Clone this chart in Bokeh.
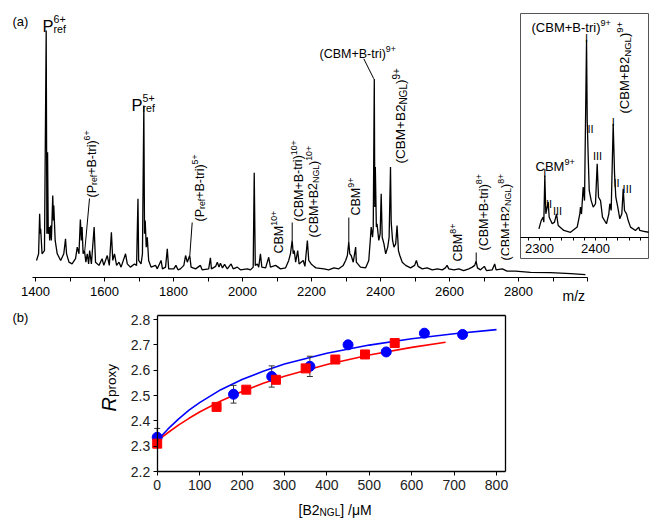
import math
from bokeh.plotting import figure
from bokeh.models import (Range1d, LinearAxis, FixedTicker, ColumnDataSource,
                          NumeralTickFormatter)
from bokeh.embed import file_html
from bokeh.resources import INLINE
from bokeh.core.properties import value

# ------------------------------------------------------------------ data
# (a) mass spectrum profile, m/z and relative intensity (%)
spec_mz = [
    1403, 1409, 1412, 1414, 1415, 1419, 1426, 1431, 1433, 1435,
    1437, 1440, 1441, 1444, 1446, 1450, 1452, 1453, 1457, 1463,
    1473, 1482, 1487, 1490, 1497, 1506, 1516, 1521, 1526, 1530,
    1533, 1535, 1538, 1542, 1546, 1550, 1554, 1557, 1562, 1570,
    1574, 1584, 1593, 1598, 1608, 1614, 1620, 1624, 1629, 1635,
    1642, 1648, 1661, 1666, 1675, 1687, 1693, 1697, 1699, 1706,
    1710, 1714, 1716, 1718, 1721, 1724, 1728, 1735, 1748, 1753,
    1764, 1768, 1777, 1782, 1786, 1801, 1807, 1813, 1820, 1830,
    1835, 1840, 1847, 1851, 1864, 1878, 1883, 1902, 1907, 1910,
    1922, 1927, 1932, 1936, 1942, 1948, 1956, 1967, 1973, 1985,
    1994, 2014, 2023, 2031, 2034, 2037, 2043, 2047, 2052, 2056,
    2067, 2076, 2081, 2096, 2110, 2125, 2134, 2139, 2144, 2147,
    2150, 2154, 2160, 2164, 2176, 2181, 2188, 2192, 2199, 2207,
    2213, 2236, 2250, 2265, 2279, 2292, 2299, 2304, 2308, 2311,
    2315, 2321, 2328, 2330, 2342, 2357, 2366, 2371, 2373, 2377,
    2379, 2382, 2383.5, 2385, 2388, 2390, 2395, 2399, 2402, 2405,
    2410, 2415, 2421, 2425, 2429, 2431, 2435, 2439, 2444, 2448,
    2452, 2456, 2463, 2473, 2487, 2499, 2504, 2509, 2521, 2535,
    2550, 2565, 2579, 2588, 2593, 2598, 2613, 2627, 2641, 2656,
    2666, 2673, 2677, 2681, 2690, 2701, 2707, 2724, 2731, 2735,
    2753, 2767, 2791, 2835, 2893, 2951, 2994,
]
spec_int = [
    6.9, 9.6, 25.8, 17.7, 19.7, 9.6, 10.9, 100, 17.7, 50.7,
    17.7, 20.4, 15, 21, 15, 33.2, 23.1, 29.1, 15, 9.6,
    6.9, 9.6, 15.7, 9.6, 6.2, 5.5, 7.6, 12.3, 9.6, 23.5,
    15, 20.4, 9.6, 10.9, 6.2, 9.6, 5.5, 10.9, 5.5, 20.4,
    6.2, 4.9, 7.6, 4.9, 8.9, 4.9, 18.3, 6.9, 9.6, 4.9,
    6.2, 4.2, 9.6, 5.5, 4.2, 5.5, 4.9, 31.9, 6.9, 5.5,
    9.6, 69.6, 17.7, 23.1, 12.3, 16.3, 6.9, 4.2, 4.9, 3.5,
    6.9, 3.5, 4.2, 11.6, 3.5, 3.5, 4.9, 3.1, 3.5, 4.9,
    8.9, 6.2, 8.9, 4.2, 3.5, 4.9, 3.1, 3.5, 8.0, 3.5,
    4.5, 6.2, 4.2, 5.8, 3.9, 5.3, 3.5, 5.5, 3.5, 4.2,
    3.1, 3.5, 3.1, 4.2, 42.4, 4.9, 5.5, 4.2, 9.6, 4.2,
    3.9, 8.2, 4.2, 4.9, 3.5, 3.9, 6.9, 9.6, 15, 9.6,
    10.9, 6.2, 10.9, 5.5, 6.9, 4.5, 15, 6.9, 5.5, 4.5,
    3.9, 3.5, 3.1, 3.9, 3.5, 4.9, 6.9, 8.9, 14.3, 9.6,
    8.9, 6.2, 12.3, 6.2, 4.2, 3.9, 6.9, 16.3, 20.4, 16.3,
    20.4, 80.4, 28.5, 44.7, 20.4, 21.7, 15, 17.7, 33.9, 16.3,
    13.6, 9.6, 12.3, 16.3, 44.7, 22.4, 15, 12.3, 13.6, 21,
    10.9, 8.9, 6.2, 4.9, 3.9, 4.9, 6.9, 4.5, 3.5, 3.9,
    3.1, 3.5, 3.1, 3.9, 4.9, 3.5, 3.1, 3.5, 2.8, 3.5,
    4.2, 4.9, 6.6, 3.9, 3.1, 4.5, 2.8, 3.1, 5.5, 3.1,
    3.5, 2.6, 2.6, 2.1, 2.0, 1.6, 1.2,
]
main_ticks = [1400, 1600, 1800, 2000, 2200, 2400, 2600, 2800, 3000]
main_minor = [1500, 1700, 1900, 2100, 2300, 2500, 2700, 2900]

# inset: zoom of the 9+ region
inset_mz = [
    2299, 2303, 2306.6, 2307.7, 2309.5, 2311.3, 2315.5, 2317.3, 2322.7, 2326.8,
    2330.4, 2333.4, 2343.4, 2355.4, 2367.3, 2372, 2373.2, 2375, 2378, 2380.4,
    2384, 2385.2, 2387, 2388.8, 2392.3, 2395.9, 2400, 2403, 2405.4, 2409,
    2412.5, 2419.6, 2423.8, 2425.5, 2428, 2431.6, 2434, 2436.3, 2439.8, 2443.4,
    2447, 2449.5, 2451.8, 2455.4, 2458.4, 2462.5, 2471.4, 2477.3, 2479, 2486.3,
    2495,
]
inset_int = [
    4.5, 8.7, 10.4, 7.9, 31.5, 12.1, 18, 10.4, 7.1, 7.9,
    12.1, 6.2, 3.7, 2.8, 5.4, 12.1, 15.5, 12, 25.6, 18.8,
    100, 59.2, 40.7, 23.9, 18.8, 15.5, 17.2, 37.4, 20.5, 18.8,
    10.4, 7.1, 12.1, 17.2, 13.8, 57.6, 32.3, 20.5, 15.5, 9.6,
    12.1, 24.7, 13.8, 12.1, 8.7, 5.4, 3.7, 5.4, 3.7, 3.3,
    2.8,
]
inset_ticks = [2300, 2400]
inset_minor = [2280, 2320, 2340, 2360, 2380, 2420, 2440, 2460, 2480]

# (b) R_proxy vs [B2_NGL]
blue_x = [0, 180, 270, 360, 450, 540, 630, 720]
blue_y = [2.335, 2.505, 2.575, 2.615, 2.700, 2.672, 2.746, 2.741]
blue_err = [0.035, 0.035, 0.042, 0.040, 0.0, 0.0, 0.0, 0.0]
red_x = [0, 140, 210, 280, 350, 420, 490, 560]
red_y = [2.310, 2.455, 2.523, 2.562, 2.607, 2.642, 2.662, 2.707]
blue_fit_x = [0, 10, 25, 50, 75, 100, 150, 200, 250, 300, 400, 500, 600, 700, 800]
blue_fit_y = [2.320, 2.340, 2.367, 2.407, 2.442, 2.472, 2.523, 2.563, 2.596,
              2.624, 2.667, 2.699, 2.724, 2.744, 2.760]
red_fit_x = [0, 10, 25, 50, 75, 100, 150, 200, 250, 300, 400, 500, 600, 680]
red_fit_y = [2.320, 2.334, 2.353, 2.383, 2.410, 2.435, 2.478, 2.516, 2.548,
             2.576, 2.622, 2.660, 2.690, 2.710]
conc_ticks = [0, 100, 200, 300, 400, 500, 600, 700, 800]
r_ticks = [2.2, 2.3, 2.4, 2.5, 2.6, 2.7, 2.8]

# ------------------------------------------------------------------ layout
W, H = 649, 518
FONT = "Liberation Sans"


def span(v0, p0, v1, p1, lo, hi):
    k = (v1 - v0) / (p1 - p0)
    return Range1d(v0 + (lo - p0) * k, v0 + (hi - p0) * k)


def inv(v0, p0, v1, p1):
    k = (v1 - v0) / (p1 - p0)
    return lambda pix: v0 + (pix - p0) * k


# main spectrum: 1400 @ x=35, 2800 @ x=518 ; 0 @ y=277, 100 @ y=30
xr = span(1400, 35, 2800, 518, 0, W)
yr = span(0, 277, 100, 30, H, 0)
ix_of = inv(2300, 539, 2400, 595)
bx_of = inv(0, 156.7, 800, 496)
by_of = inv(2.2, 471, 2.8, 319)

p = figure(width=W, height=H, x_range=xr, y_range=yr, output_backend="svg",
           toolbar_location=None, min_border=0, x_axis_type=None, y_axis_type=None)
p.outline_line_color = None
p.background_fill_color = "white"
p.border_fill_color = "white"
p.extra_x_ranges = {
    "ix": span(2300, 539, 2400, 595, 0, W),
    "bx": span(0, 156.7, 800, 496, 0, W),
    "px": Range1d(0, W),
}
p.extra_y_ranges = {
    "iy": span(0, 237.3, 100, 39.3, H, 0),
    "by": span(2.2, 471, 2.8, 319, H, 0),
    "py": Range1d(H, 0),
}


def style_axis(ax, size="13px", color="black", tick_out=4, minor_out=3, standoff=5, lw=1):
    ax.major_label_text_font = FONT
    ax.major_label_text_font_size = size
    ax.major_label_text_color = color
    ax.axis_line_color = "black"
    ax.axis_line_width = lw
    ax.major_tick_line_color = "black"
    ax.minor_tick_line_color = "black"
    ax.major_tick_in = 0
    ax.minor_tick_in = 0
    ax.major_tick_out = tick_out
    ax.minor_tick_out = minor_out
    ax.major_label_standoff = standoff


# ---- main spectrum
p.line(spec_mz, spec_int, line_color="black", line_width=1.3)
ax_main = LinearAxis(fixed_location=0, bounds=(1390, 3000),
                     ticker=FixedTicker(ticks=main_ticks, minor_ticks=main_minor))
ax_main.major_label_overrides = {3000: ""}
style_axis(ax_main, tick_out=4, minor_out=4, standoff=5)
p.add_layout(ax_main, "below")

# leader lines from annotations to their peaks (page pixels)
leaders = dict(x0=[89, 191.7, 291.7, 348.3, 363.3, 475.7],
               y0=[198, 222, 222, 217, 58.3, 252],
               x1=[84.3, 189.3, 291.7, 348.3, 373.3, 475.7],
               y1=[250, 255, 240, 241.7, 78.3, 260.7])
p.segment(x0="x0", y0="y0", x1="x1", y1="y1", source=ColumnDataSource(leaders),
          x_range_name="px", y_range_name="py", line_color="black", line_width=1)

# ---- inset
p.quad(left=[520], right=[648], top=[13], bottom=[258], x_range_name="px",
       y_range_name="py", fill_color="white", line_color="#555555", line_width=1)
p.line(inset_mz, inset_int, x_range_name="ix", y_range_name="iy",
       line_color="black", line_width=1.3)
ax_in = LinearAxis(x_range_name="ix", y_range_name="iy", fixed_location=0,
                   bounds=(ix_of(520), ix_of(648)),
                   ticker=FixedTicker(ticks=inset_ticks, minor_ticks=inset_minor))
style_axis(ax_in, tick_out=3, minor_out=3, standoff=3)
p.add_layout(ax_in, "below")

# ---- panel b
x_right = bx_of(505)
y_top = by_of(315)
p.line(blue_fit_x, blue_fit_y, x_range_name="bx", y_range_name="by",
       line_color="#0000FF", line_width=1.6)
p.line(red_fit_x, red_fit_y, x_range_name="bx", y_range_name="by",
       line_color="#FF0000", line_width=1.6)
eb = [(x, y, e) for x, y, e in zip(blue_x, blue_y, blue_err) if e > 0]
eb_src = ColumnDataSource(dict(x=[v[0] for v in eb],
                               lo=[v[1] - v[2] for v in eb],
                               hi=[v[1] + v[2] for v in eb]))
p.segment(x0="x", y0="lo", x1="x", y1="hi", source=eb_src, x_range_name="bx",
          y_range_name="by", line_color="#333333", line_width=1)
p.scatter(x="x", y="lo", source=eb_src, marker="dash", size=6, x_range_name="bx",
          y_range_name="by", line_color="#333333", line_width=1)
p.scatter(x="x", y="hi", source=eb_src, marker="dash", size=6, x_range_name="bx",
          y_range_name="by", line_color="#333333", line_width=1)
p.scatter(blue_x, blue_y, marker="circle", size=10, x_range_name="bx",
          y_range_name="by", fill_color="#0000FF", line_color="#0000FF")
p.scatter(red_x, red_y, marker="square", size=9, x_range_name="bx",
          y_range_name="by", fill_color="#FF0000", line_color="#FF0000")

ax_bl = LinearAxis(x_range_name="bx", y_range_name="by", fixed_location=0,
                   bounds=(2.2, y_top), ticker=FixedTicker(ticks=r_ticks),
                   formatter=NumeralTickFormatter(format="0.0"))
style_axis(ax_bl, size="14px", color="#222222", tick_out=4, minor_out=0, standoff=3, lw=1.3)
p.add_layout(ax_bl, "left")
ax_bb = LinearAxis(x_range_name="bx", y_range_name="by", fixed_location=2.2,
                   bounds=(0, x_right), ticker=FixedTicker(ticks=conc_ticks))
style_axis(ax_bb, size="14px", color="#222222", tick_out=4, minor_out=0, standoff=4, lw=1.3)
p.add_layout(ax_bb, "below")
ax_bt = LinearAxis(x_range_name="bx", y_range_name="by", fixed_location=y_top,
                   bounds=(0, x_right), ticker=FixedTicker(ticks=[]))
style_axis(ax_bt, lw=1.3)
p.add_layout(ax_bt, "above")
ax_br = LinearAxis(x_range_name="bx", y_range_name="by", fixed_location=x_right,
                   bounds=(2.2, y_top), ticker=FixedTicker(ticks=[]))
style_axis(ax_br, lw=1.3)
p.add_layout(ax_br, "right")

# ------------------------------------------------------------------ texts
CW = {'(': 333, ')': 333, '+': 584, '-': 333, ' ': 278, '/': 278, '[': 278, ']': 278,
      '.': 278, 'A': 667, 'B': 667, 'C': 722, 'G': 778, 'L': 556, 'M': 833, 'N': 722,
      'P': 667, 'R': 722, 'I': 278, 'a': 556, 'e': 556, 'f': 278, 'i': 222, 'm': 833,
      'o': 556, 'p': 556, 'r': 333, 't': 278, 'x': 500, 'y': 500, 'z': 500, 'μ': 576}


def tw(s, size):
    return sum(CW.get(c, 556) for c in s) / 1000.0 * size


TX = {"left": dict(x=[], y=[], text=[], size=[], angle=[]),
      "center": dict(x=[], y=[], text=[], size=[], angle=[])}


def put(t, x, y, size, angle=0.0, align="left"):
    d = TX[align]
    d["x"].append(x)
    d["y"].append(y)
    d["text"].append(t)
    d["size"].append("%.1fpx" % size)
    d["angle"].append(angle)


def rich(parts, x, y, size, rotated=False, small=0.7):
    adv = 0.0
    ang = math.pi / 2 if rotated else 0.0
    for part in parts:
        t, kind = part[0], part[1]
        advance = part[2] if len(part) > 2 else True
        s = size if kind == "n" else size * small
        sh = 0.0 if kind == "n" else (-0.37 * size if kind == "sup" else 0.22 * size)
        if rotated:
            put(t, x + sh, y - adv, s, ang)
        else:
            put(t, x + adv, y + sh, s, ang)
        if advance:
            adv += tw(t, s)


def btri(ch):
    return [("(CBM+B-tri)", "n"), (ch, "sup")]


def b2(ch):
    return [("(CBM+B2", "n"), ("NGL", "sub"), (")", "n"), (ch, "sup")]


def pref(ch):
    return [("(P", "n"), ("ref", "sub"), ("+B-tri)", "n"), (ch, "sup")]


RS = 12.5  # rotated label size
rich([("(a)", "n")], 12, 21, 13)
rich([("P", "n"), ("ref", "sub", False), ("6+", "sup")], 42, 25, 16.5, small=0.64)
rich([("P", "n"), ("ref", "sub", False), ("5+", "sup")], 131, 104, 16.5, small=0.64)
rich(pref("6+"), 91, 197, RS, True)
rich(pref("5+"), 199, 221, RS, True)
rich([("CBM", "n"), ("10+", "sup")], 278, 253, RS, True)
rich(btri("10+"), 298, 221, RS, True)
rich(b2("10+"), 313, 237, RS, True)
rich([("CBM", "n"), ("9+", "sup")], 355, 215, RS, True)
rich(btri("9+"), 319, 53, 12.5)
rich(b2("9+"), 400, 163, 13.5, True, small=0.74)
rich([("CBM", "n"), ("8+", "sup")], 457, 261, RS, True)
rich(btri("8+"), 483, 250, RS, True)
rich(b2("8+"), 505, 260, RS, True)
rich([("m/z", "n")], 562, 295, 14)
# inset labels
rich(btri("9+"), 531, 27, 13)
rich(b2("9+"), 624, 113, 13, True, small=0.74)
rich([("CBM", "n"), ("9+", "sup")], 535, 166, 13)
for t, xx, yy in [("I", 544.3, 172), ("II", 548.5, 203), ("III", 557, 210),
                  ("I", 586, 37), ("II", 590, 128), ("III", 597, 155),
                  ("I", 612.7, 121), ("II", 616, 182), ("III", 626.7, 188)]:
    put(t, xx, yy, 11, 0.0, "center")
# panel b labels
rich([("(b)", "n")], 12, 317, 13)
rich([("[B2", "n"), ("NGL", "sub"), ("] /μM", "n")], 298, 509, 14, small=0.72)
rich([("proxy", "n")], 111, 411 - tw("R", 20), 13.5, True)

for align, d in TX.items():
    p.text(x="x", y="y", text="text", angle="angle", text_font_size="size",
           source=ColumnDataSource(d), x_range_name="px", y_range_name="py",
           text_font=value(FONT), text_align=align, text_baseline="alphabetic",
           text_color="black")
p.text(x=[108], y=[411], text=["R"], angle=[math.pi / 2], x_range_name="px",
       y_range_name="py", text_font=value(FONT), text_font_size="20px",
       text_font_style="italic", text_align="left", text_baseline="alphabetic",
       text_color="black")

open("out.html", "w").write(file_html(p, INLINE))
